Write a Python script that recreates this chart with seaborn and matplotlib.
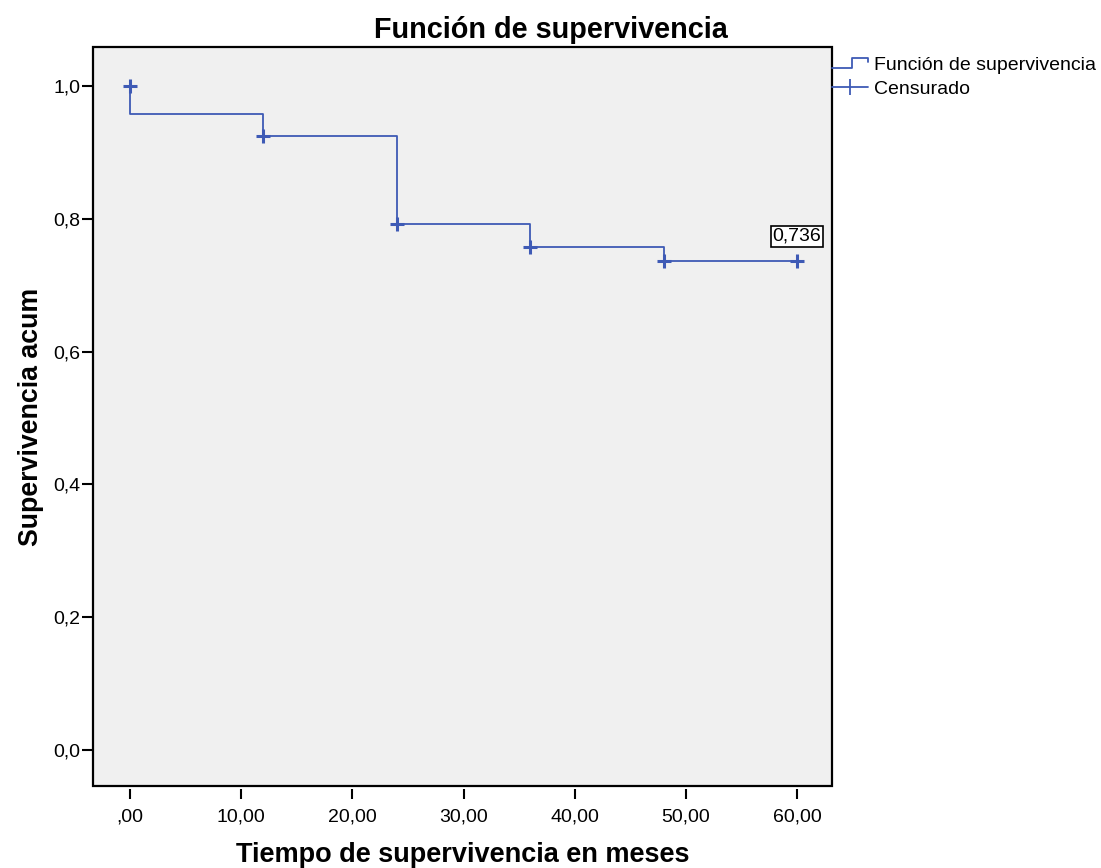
import numpy as np
import pandas as pd
import matplotlib
matplotlib.use("Agg")
import matplotlib.pyplot as plt
import seaborn as sns
from matplotlib.lines import Line2D
from matplotlib.patches import Rectangle
from matplotlib.legend_handler import HandlerBase

# survival curve (steps-post), the first point is the start at 1,0
step_time = [0, 0, 12, 24, 36, 48, 60]
step_surv = [1.0, 0.958, 0.925, 0.792, 0.758, 0.736, 0.736]

# censored observations
cens_time = [0, 12, 24, 36, 48, 60]
cens_surv = [1.0, 0.925, 0.792, 0.758, 0.736, 0.736]

x_ticks = [0, 10, 20, 30, 40, 50, 60]
x_tick_labels = [",00", "10,00", "20,00", "30,00", "40,00", "50,00", "60,00"]
y_ticks = [0.0, 0.2, 0.4, 0.6, 0.8, 1.0]
y_tick_labels = ["0,0", "0,2", "0,4", "0,6", "0,8", "1,0"]

blue = "#3E5AB5"

sns.set_style("white")
plt.rcParams['font.family'] = ['Liberation Sans', 'DejaVu Sans']
plt.rcParams['text.color'] = 'black'
plt.rcParams['axes.labelcolor'] = 'black'

curve = pd.DataFrame({"t": step_time, "s": step_surv})
cens = pd.DataFrame({"t": cens_time, "s": cens_surv})

W, H = 1101, 868
fig = plt.figure(figsize=(W / 100, H / 100), dpi=100)
ax = fig.add_axes([93 / W, 1 - 786 / H, (832 - 93) / W, (786 - 47) / H])
ax.set_facecolor("#F0F0F0")

sns.lineplot(data=curve, x="t", y="s", estimator=None, sort=False,
             drawstyle="steps-post", color=blue, lw=1.3, ax=ax)
sns.scatterplot(data=cens, x="t", y="s", marker="+", s=95, linewidth=2.2,
                color=blue, ax=ax, zorder=3)

ax.set_xlim(-3.33, 63.15)
ax.set_ylim(-0.0542, 1.0587)

ax.set_xticks(x_ticks)
ax.set_xticklabels(x_tick_labels)
ax.set_yticks(y_ticks)
ax.set_yticklabels(y_tick_labels)
ax.tick_params(axis="both", labelsize=14, direction="out", colors="black")
ax.tick_params(axis="x", length=7.5, width=1.5, pad=6, bottom=True)
ax.tick_params(axis="y", length=8, width=1.5, pad=1, left=True)

# x ticks sit a little below the frame
ax.spines["bottom"].set_position(("outward", 2.5))
for sp in ax.spines.values():
    sp.set_visible(False)
ax.add_patch(Rectangle((0, 0), 1, 1, transform=ax.transAxes, fill=False,
                       ec="black", lw=1.6, clip_on=False, zorder=5))

ax.set_xlabel("Tiempo de supervivencia en meses", fontsize=19.5, fontweight="bold", labelpad=12)
ax.set_ylabel("Supervivencia acum", fontsize=19.3, fontweight="bold", labelpad=7)
fig.suptitle("Función de supervivencia", x=0.5, y=1 - 16 / H, va="top",
             fontsize=20.8, fontweight="bold")

last = cens_surv[-1]
ax.annotate(f"{last:.3f}".replace(".", ","), xy=(cens_time[-1], last),
            xytext=(0, 18), textcoords="offset points", ha="center", va="center",
            fontsize=14,
            bbox=dict(boxstyle="square,pad=0.1", fc="white", ec="black", lw=1.2))


class StepHandler(HandlerBase):
    def create_artists(self, legend, orig_handle, xdescent, ydescent,
                       width, height, fontsize, trans):
        xs = np.array([0, 0.55, 0.55, 1.0, 1.0]) * width - xdescent
        ys = np.array([0.15, 0.15, 0.88, 0.88, 0.55]) * height - ydescent
        ln = Line2D(xs, ys, color=blue, lw=1.3)
        ln.set_transform(trans)
        return [ln]


step_handle = Line2D([], [], color=blue)
cens_handle = Line2D([], [], color=blue, lw=1.3, marker="|", markersize=11,
                     markeredgewidth=1.3)
ax.legend([step_handle, cens_handle], ["Función de supervivencia", "Censurado"],
          handler_map={step_handle: StepHandler()}, loc="upper left",
          bbox_to_anchor=(1.0, 1 - 9 / 739), frameon=False, borderaxespad=0,
          borderpad=0, handlelength=1.85, handletextpad=0.3, labelspacing=0.35,
          numpoints=1, fontsize=14)

fig.savefig("out.png", dpi=100)
